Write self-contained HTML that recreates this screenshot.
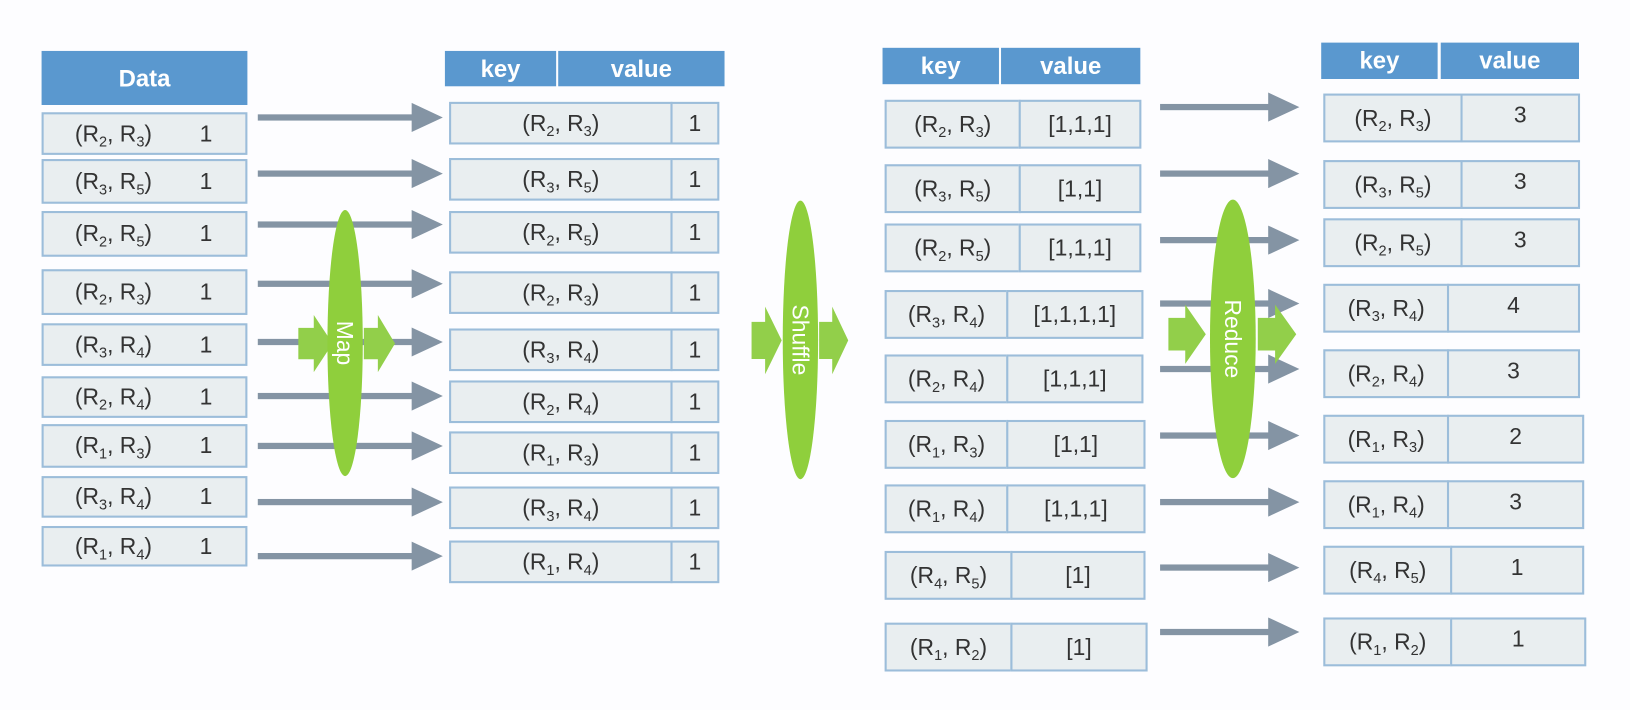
<!DOCTYPE html>
<html><head><meta charset="utf-8"><style>
html,body{margin:0;padding:0;background:#fdfdff;}
#stage{position:relative;width:1630px;height:710px;overflow:hidden;font-family:"Liberation Sans",sans-serif;color:#333;}
#inner{position:absolute;left:0;top:0;width:1568px;height:683px;transform:scale(1.0395);transform-origin:0 0;}
.hdr{position:absolute;background:#5a98cf;color:#fff;font-weight:bold;font-size:23px;display:flex;align-items:center;justify-content:center;box-sizing:border-box;}
.cell{position:absolute;background:#e9eef0;border:2px solid #9cbdda;box-sizing:border-box;font-size:22px;display:flex;align-items:center;justify-content:center;}
.cell sub{font-size:14px;vertical-align:-5px;line-height:0;}
</style></head><body>
<div id="stage">
<div id="inner">
<svg id="svg" width="1568" height="683" style="position:absolute;left:0;top:0"></svg>
</div>
</div>
<script>
const pairs1=[[2,3],[3,5],[2,5],[2,3],[3,4],[2,4],[1,3],[3,4],[1,4]];
const vals1=["1","1","1","1","1","1","1","1","1"];
const pairs3=[[2,3],[3,5],[2,5],[3,4],[2,4],[1,3],[1,4],[4,5],[1,2]];
const lists3=["[1,1,1]","[1,1]","[1,1,1]","[1,1,1,1]","[1,1,1]","[1,1]","[1,1,1]","[1]","[1]"];
const counts4=["3","3","3","4","3","2","3","1","1"];

const st=document.getElementById('inner');
const svg=document.getElementById('svg');
const NS="http://www.w3.org/2000/svg";
function keyHtml(p){return `<span>(R<sub>${p[0]}</sub>, R<sub>${p[1]}</sub>)</span>`;}
function box(cls,x,y,w,h,html,name){const d=document.createElement('div');d.className=cls;
d.style.cssText=`left:${x}px;top:${y}px;width:${w}px;height:${h}px;`;d.innerHTML=html;


st.appendChild(d);return d;}
function arrow(x1,x2,y,name){const g=document.createElementNS(NS,'g');


const l=document.createElementNS(NS,'rect');l.setAttribute('x',x1);l.setAttribute('y',y-3);l.setAttribute('width',x2-x1-28);l.setAttribute('height',6);l.setAttribute('fill','#8494a4');
const p=document.createElementNS(NS,'polygon');p.setAttribute('points',`${x2-30},${y-14} ${x2},${y} ${x2-30},${y+14}`);p.setAttribute('fill','#8494a4');
g.appendChild(l);g.appendChild(p);svg.appendChild(g);}

// Column 1
box('hdr',40,49,198,52,'Data','data-header');
const y1=[108,153,203,259,311,362,408,458,506],h1=[41,43,44,44,41,40,42,40,39];
pairs1.forEach((p,i)=>{const d=box('cell',40,y1[i],198,h1[i],'','data-row');
d.style.justifyContent='flex-start';
d.innerHTML=`<span style="position:absolute;left:30px">${keyHtml(p)}</span><span style="position:absolute;left:150px">${vals1[i]}</span>`;});
const a1=[113,167,216,273,329,381,429,483,535];
a1.forEach(y=>arrow(248,426,y,'map-arrow'));

// Column 2
box('hdr',428,49,107,34,'key','map-key-header');
box('hdr',537,49,160,34,'value','map-value-header');
const y2=[98,152,203,261,316,366,415,468,520];
pairs1.forEach((p,i)=>{box('cell',432,y2[i],215,41,keyHtml(p),'map-key-cell');
box('cell',645,y2[i],47,41,vals1[i],'map-value-cell');});

// Column 3
box('hdr',849,46,112,35,'key','shuffle-key-header');
box('hdr',963,46,134,35,'value','shuffle-value-header');
const y3=[96,158,215,279,341,404,466,530,599],sp3=[980,980,980,968,968,968,968,972,972],r3=[1098,1098,1098,1100,1100,1102,1102,1102,1104];
pairs3.forEach((p,i)=>{box('cell',851,y3[i],sp3[i]-851+2,47,keyHtml(p),'shuffle-key-cell');
box('cell',sp3[i],y3[i],r3[i]-sp3[i],47,lists3[i],'shuffle-value-cell');});
const a3=[103,167,231,292,355,419,483,546,608];
a3.forEach(y=>arrow(1116,1250,y,'reduce-arrow'));

// Column 4
box('hdr',1271,41,112,35,'key','reduce-key-header');
box('hdr',1386,41,133,35,'value','reduce-value-header');
const y4=[90,154,210,273,336,399,462,525,594],sp4=[1405,1405,1405,1392,1392,1392,1392,1395,1395],r4=[1520,1520,1520,1520,1520,1524,1524,1524,1526];
pairs3.forEach((p,i)=>{box('cell',1273,y4[i],sp4[i]-1273+2,47,keyHtml(p),'reduce-key-cell');
const d=box('cell',sp4[i],y4[i],r4[i]-sp4[i],47,counts4[i],'reduce-value-cell');d.style.alignItems='flex-start';d.style.paddingTop='6px';});

// green stages
function stage(cx,cy,rx,ry,label,lx1,lx2,rx1,rx2,by1,by2,name){
const g=document.createElementNS(NS,'g');


const mid=(by1+by2)/2,hh=(by2-by1)/2;
function blk(x1,x2){const p=document.createElementNS(NS,'polygon');const sh=x1+(x2-x1)*0.45;
p.setAttribute('points',`${x1},${mid-hh*0.55} ${sh},${mid-hh*0.55} ${sh},${by1} ${x2},${mid} ${sh},${by2} ${sh},${mid+hh*0.55} ${x1},${mid+hh*0.55}`);
p.setAttribute('fill','#92cf4a');g.appendChild(p);}
blk(lx1,lx2);blk(rx1,rx2);
const e=document.createElementNS(NS,'ellipse');e.setAttribute('cx',cx);e.setAttribute('cy',cy);e.setAttribute('rx',rx);e.setAttribute('ry',ry);e.setAttribute('fill','#8fcf3c');g.appendChild(e);
const t=document.createElementNS(NS,'text');t.setAttribute('x',cx);t.setAttribute('y',cy);t.setAttribute('fill','#fff');t.setAttribute('font-size','22');
t.setAttribute('font-family','Liberation Sans, sans-serif');t.setAttribute('text-anchor','middle');t.setAttribute('dominant-baseline','central');
t.setAttribute('transform',`rotate(90 ${cx} ${cy})`);t.textContent=label;g.appendChild(t);svg.appendChild(g);}
stage(332,330,17,128,'Map',287,320,350,380,303,358,'map-stage');
stage(770,327,17,134,'Shuffle',723,752,788,816,295,360,'shuffle-stage');
stage(1186,326,22,134,'Reduce',1124,1160,1210,1247,293,350,'reduce-stage');
</script>
</body></html>
